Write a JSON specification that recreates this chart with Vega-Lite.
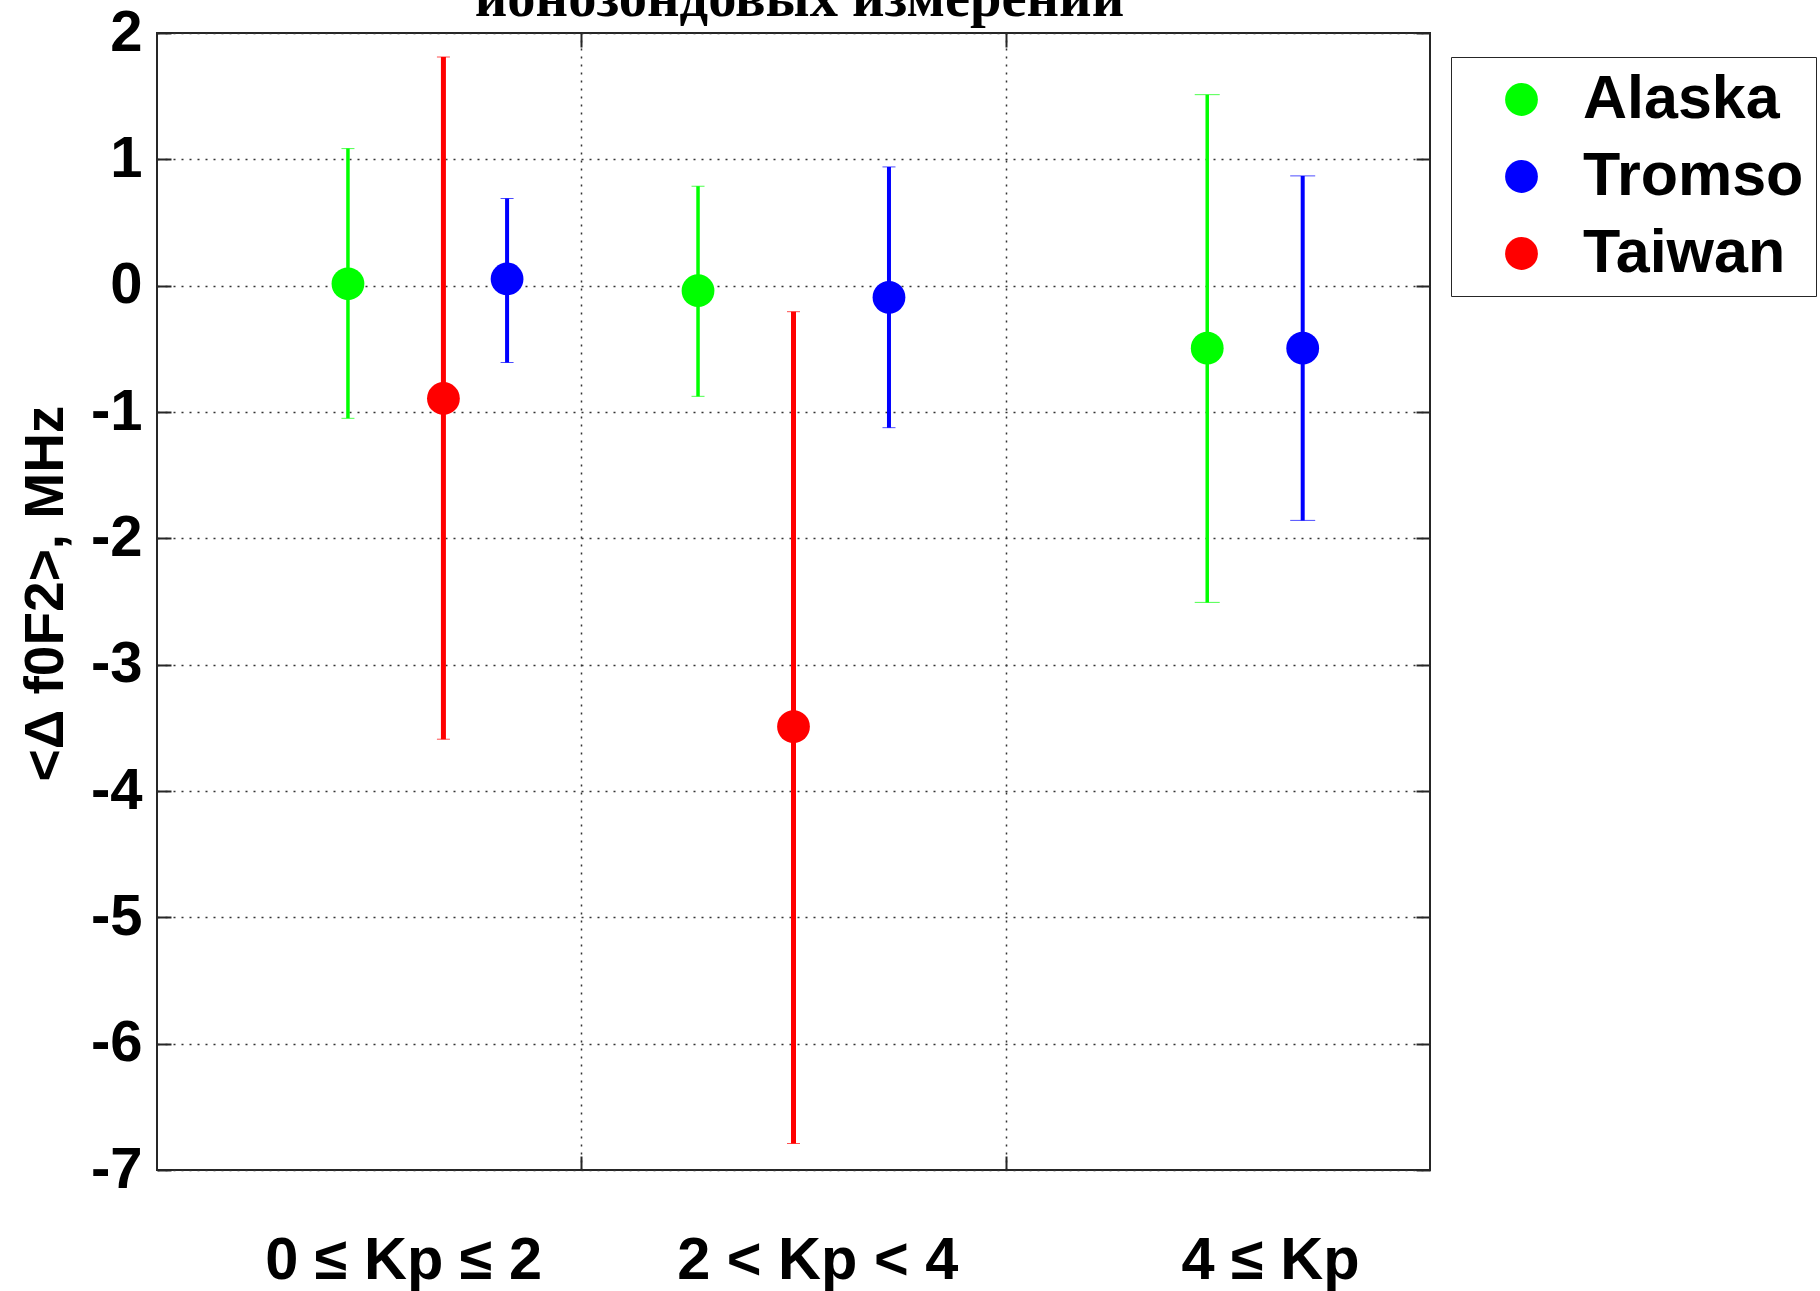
{
  "$schema": "https://vega.github.io/schema/vega-lite/v6.json",
  "width": 1273,
  "height": 1137,
  "autosize": {"type": "none"},
  "padding": {"left": 157, "top": 33, "right": 390, "bottom": 121},
  "background": "white",
  "config": {
    "view": {"stroke": "#262626", "strokeWidth": 2},
    "font": "Liberation Sans",
    "axis": {"domain": false, "tickColor": "#262626", "tickWidth": 2, "gridColor": "#333333", "gridDash": [2, 6], "gridWidth": 1.5, "gridOpacity": 1}
  },
  "title": {
    "text": "ионозондовых измерений",
    "font": "Liberation Serif",
    "fontSize": 56.5,
    "fontWeight": "bold",
    "anchor": "middle",
    "frame": "group",
    "offset": -23,
    "dx": 6,
    "color": "black"
  },
  "data": {
    "values": [
      {"kp": "0 ≤ Kp ≤ 2", "site": "Alaska", "x": 0.45, "mean": 0.015, "lo": -1.05, "hi": 1.085},
      {"kp": "0 ≤ Kp ≤ 2", "site": "Taiwan", "x": 0.675, "mean": -0.893, "lo": -3.59, "hi": 1.81},
      {"kp": "0 ≤ Kp ≤ 2", "site": "Tromso", "x": 0.825, "mean": 0.053, "lo": -0.608, "hi": 0.69},
      {"kp": "2 < Kp < 4", "site": "Alaska", "x": 1.275, "mean": -0.04, "lo": -0.876, "hi": 0.787},
      {"kp": "2 < Kp < 4", "site": "Taiwan", "x": 1.5, "mean": -3.49, "lo": -6.79, "hi": -0.206},
      {"kp": "2 < Kp < 4", "site": "Tromso", "x": 1.725, "mean": -0.092, "lo": -1.124, "hi": 0.94},
      {"kp": "4 ≤ Kp", "site": "Alaska", "x": 2.475, "mean": -0.495, "lo": -2.507, "hi": 1.512},
      {"kp": "4 ≤ Kp", "site": "Tromso", "x": 2.7, "mean": -0.495, "lo": -1.858, "hi": 0.869}
    ]
  },
  "resolve": {"axis": {"x": "independent", "y": "independent"}},
  "layer": [
    {
      "mark": {"type": "rule"},
      "encoding": {
        "x": {"field": "x", "type": "quantitative", "scale": {"domain": [0, 3], "nice": false, "zero": false},
          "axis": {"orient": "bottom", "values": [0.58, 1.556, 2.623], "ticks": false, "grid": false, "title": null,
            "labelExpr": "datum.value < 1 ? '0 ≤ Kp ≤ 2' : (datum.value < 2 ? '2 < Kp < 4' : '4 ≤ Kp')",
            "labelFontSize": 59.5, "labelFontWeight": "bold", "labelColor": "black", "labelBaseline": "alphabetic", "labelPadding": 108, "labelFlush": false, "labelOverlap": false, "labelLimit": 600}},
        "y": {"field": "lo", "type": "quantitative", "scale": {"domain": [-7, 2], "nice": false, "zero": false},
          "axis": {"orient": "left", "values": [-7, -6, -5, -4, -3, -2, -1, 0, 1, 2], "grid": true, "tickSize": -14, "labelPadding": 29,
            "labelExpr": "'' + datum.value",
            "labelFontSize": 58, "labelFontWeight": "bold", "labelColor": "black", "labelFlush": false, "labelOverlap": false,
            "title": "<Δ f0F2>, MHz", "titleFontSize": 55, "titleFontWeight": "bold", "titleColor": "black",
            "titleAngle": -90, "titleBaseline": "middle", "titleAlign": "center", "titleX": -112, "titleY": 560}},
        "y2": {"field": "hi"},
        "stroke": {"field": "site", "type": "nominal", "scale": {"range": ["#00ff00", "#ff0000", "#0000ff"]}, "legend": null},
        "strokeWidth": {"condition": [{"test": "datum.site === 'Taiwan'", "value": 5}, {"test": "datum.site === 'Tromso'", "value": 4}], "value": 3.5}
      }
    },
    {
      "mark": {"type": "tick", "orient": "horizontal"},
      "encoding": {
        "x": {"field": "x", "type": "quantitative",
          "axis": {"orient": "bottom", "values": [1, 2], "tickSize": -14, "labels": false, "grid": false, "title": null}},
        "y": {"field": "hi", "type": "quantitative",
          "axis": {"orient": "right", "values": [-7, -6, -5, -4, -3, -2, -1, 0, 1, 2], "tickSize": -14, "labels": false, "grid": false, "title": null}},
        "fill": {"field": "site", "type": "nominal", "scale": {"range": ["#00ff00", "#ff0000", "#0000ff"]}, "legend": null},
        "size": {"condition": {"test": "datum.x > 2.2", "value": 25}, "value": 13},
        "thickness": {"condition": [{"test": "datum.site === 'Taiwan'", "value": 3}], "value": 2.5}
      }
    },
    {
      "mark": {"type": "tick", "orient": "horizontal"},
      "encoding": {
        "x": {"field": "x", "type": "quantitative", "axis": null},
        "y": {"field": "lo", "type": "quantitative", "axis": null},
        "fill": {"field": "site", "type": "nominal", "scale": {"range": ["#00ff00", "#ff0000", "#0000ff"]}, "legend": null},
        "size": {"condition": {"test": "datum.x > 2.2", "value": 25}, "value": 13},
        "thickness": {"condition": [{"test": "datum.site === 'Taiwan'", "value": 3}], "value": 2.5}
      }
    },
    {
      "mark": {"type": "point", "shape": "circle", "filled": true, "opacity": 1, "size": 1075},
      "encoding": {
        "x": {"field": "x", "type": "quantitative",
          "axis": {"orient": "top", "values": [1, 2], "tickSize": -14, "labels": false, "grid": true, "title": null}},
        "y": {"field": "mean", "type": "quantitative", "axis": null},
        "color": {"field": "site", "type": "nominal", "scale": {"domain": ["Alaska", "Tromso", "Taiwan"], "range": ["#00ff00", "#0000ff", "#ff0000"]},
          "legend": {"title": null, "orient": "none", "legendX": 1294, "legendY": 24, "strokeColor": "#262626", "fillColor": "white",
            "padding": 12, "symbolType": "circle", "symbolSize": 1075, "symbolStrokeWidth": 0, "symbolOffset": 28, "labelOffset": 31,
            "labelFontSize": 61, "labelFontWeight": "bold", "labelColor": "black", "rowPadding": 15, "labelLimit": 400}}
      }
    }
  ]
}
